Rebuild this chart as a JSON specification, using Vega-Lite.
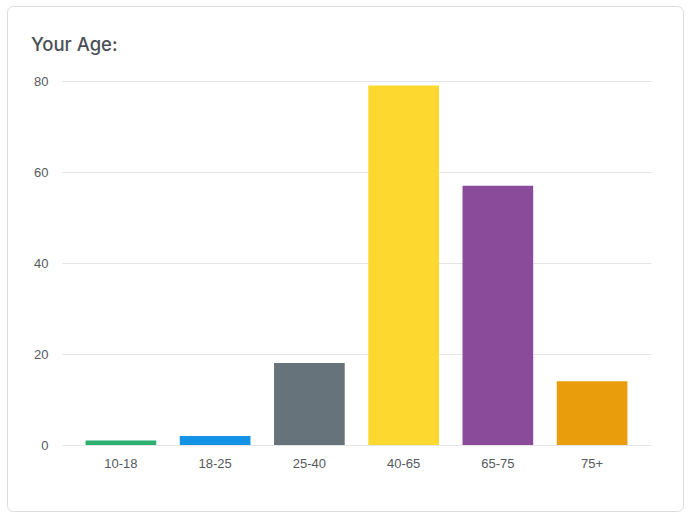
{
  "$schema": "https://vega.github.io/schema/vega-lite/v6.json",
  "width": 676,
  "height": 505,
  "autosize": {"type": "none"},
  "padding": {"left": 7, "top": 6, "right": 7, "bottom": 8},
  "background": "white",
  "title": {
    "text": "Your Age:",
    "anchor": "start",
    "frame": "group",
    "orient": "top",
    "offset": 0,
    "baseline": "alphabetic",
    "dx": 24,
    "dy": 63,
    "font": "Inter",
    "fontSize": 18.5,
    "fontWeight": 500,
    "color": "#4a4f57"
  },
  "config": {
    "view": {"stroke": "#dcdcdc", "cornerRadius": 6, "fill": "white"},
    "axis": {"labelFont": "Liberation Sans", "labelFontSize": 13, "labelColor": "#555a60"}
  },
  "data": {
    "values": [
      {"age": "10-18", "count": 1},
      {"age": "18-25", "count": 2},
      {"age": "25-40", "count": 18},
      {"age": "40-65", "count": 79},
      {"age": "65-75", "count": 57},
      {"age": "75+", "count": 14}
    ]
  },
  "mark": {"type": "bar"},
  "encoding": {
    "x": {
      "field": "age",
      "type": "nominal",
      "sort": null,
      "scale": {"range": [55, 644], "paddingInner": 0.25, "paddingOuter": 0.25},
      "axis": {"title": null, "labelAngle": 0, "offset": -66, "ticks": false, "domain": false, "grid": false, "labelPadding": 12}
    },
    "y": {
      "field": "count",
      "type": "quantitative",
      "scale": {"domain": [0, 80], "range": [439, 75], "nice": false},
      "axis": {"title": null, "values": [0, 20, 40, 60, 80], "offset": -55, "ticks": false, "domain": false, "labelPadding": 14, "gridColor": "#e4e4e4"}
    },
    "color": {
      "field": "age",
      "type": "nominal",
      "sort": null,
      "scale": {
        "domain": ["10-18", "18-25", "25-40", "40-65", "65-75", "75+"],
        "range": ["#2bb06f", "#1492e6", "#66737b", "#fdd82f", "#8b4b9b", "#e99d0d"]
      },
      "legend": null
    }
  }
}
